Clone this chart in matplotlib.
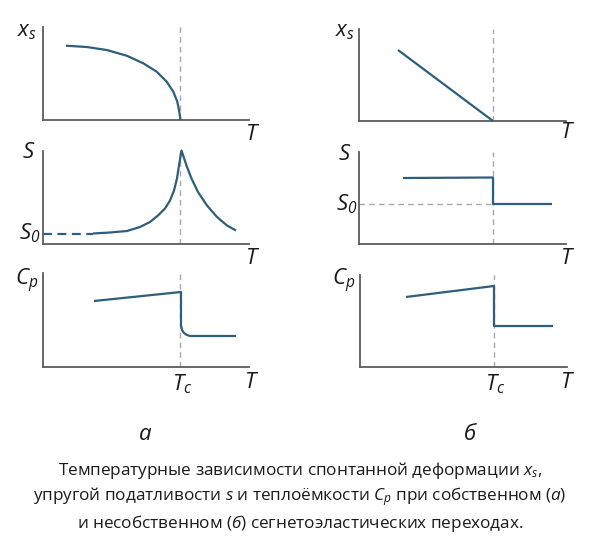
import numpy as np
import matplotlib
matplotlib.use("Agg")
import matplotlib.pyplot as plt

plt.rcParams['font.family'] = ['Open Sans', 'DejaVu Sans']
plt.rcParams['mathtext.fontset'] = 'custom'
plt.rcParams['mathtext.rm'] = 'Open Sans'
plt.rcParams['mathtext.it'] = 'Open Sans:italic'
plt.rcParams['mathtext.bf'] = 'Open Sans:bold'
plt.rcParams['mathtext.cal'] = 'Open Sans:italic'

TC_A = 137.5
TC_B = 134.0

xs_a_T = [23, 43.7, 63.7, 83.7, 100.3, 113.7, 123.7, 130.3, 134.3, 136.3, 137.5]
xs_a = [74.3, 73, 70, 64.3, 56.7, 48.3, 38.3, 28.3, 18.3, 8.3, 0]

s_a_T = [50, 67, 84, 97, 107, 115, 122, 127, 131, 134, 136, 138.5,
         143.5, 148.5, 155, 164, 174, 184, 193]
s_a = [10, 11, 12.5, 16.5, 21.5, 28, 35, 43, 53, 65, 78, 93,
       78, 65, 51.5, 38, 26.5, 18, 13]
s0_a = 10

cp_a_T = [51, 138, 138, 139, 141, 144, 147, 193]
cp_a = [66, 75, 42, 37, 34, 32, 31, 31]

xs_b_T = [39, 134]
xs_b = [71, 0]

s_b_T = [44, 134, 134, 193]
s_b = [66, 66.5, 40, 40]
s0_b = 40

cp_b_T = [46, 134, 134, 193]
cp_b = [70, 81, 41, 41]

caption = ("Температурные зависимости спонтанной деформации $x_s$,\n"
           "упругой податливости $s$ и теплоёмкости $C_p$ при собственном ($а$)\n"
           "и несобственном ($б$) сегнетоэластических переходах.")

W, H = 600, 550
LINE = '#2e5e7c'
AXC = '#5c5c5c'
DASH = '#a8a8a8'
TXT = '#1a1a1a'

fig = plt.figure(figsize=(6, 5.5), dpi=100)


def make_ax(x0, y_top, x1, y_bot, tmax, ymax):
    ax = fig.add_axes([x0 / W, 1 - y_bot / H, (x1 - x0) / W, (y_bot - y_top) / H])
    ax.set_xlim(0, tmax)
    ax.set_ylim(0, ymax)
    for sp in ['top', 'right']:
        ax.spines[sp].set_visible(False)
    for sp in ['left', 'bottom']:
        ax.spines[sp].set_color(AXC)
        ax.spines[sp].set_linewidth(1.3)
    ax.set_xticks([])
    ax.set_yticks([])
    ax.patch.set_alpha(0)
    return ax


def label(x, y, s, ha='center', size=16):
    fig.text(x / W, 1 - y / H, s, ha=ha, va='center', fontsize=size,
             color=TXT, style='italic')


def vdash(ax, tc):
    ax.axvline(tc, color=DASH, lw=1.0, ls=(0, (4, 3)), zorder=1)


def curve(ax, t, v, **kw):
    ax.plot(t, v, color=LINE, lw=1.6, solid_joinstyle='round',
            solid_capstyle='butt', clip_on=False, zorder=3, **kw)


# column a
ax = make_ax(43, 27, 249, 120, 206, 93)
vdash(ax, TC_A)
curve(ax, xs_a_T, xs_a)
label(37, 32, '$x_s$', ha='right')
label(253, 134, '$T$')

ax = make_ax(43, 151, 249, 243.5, 206, 92.5)
vdash(ax, TC_A)
ax.plot([0, s_a_T[0]], [s0_a, s0_a], color=LINE, lw=1.6, ls=(0, (4, 2.5)))
curve(ax, s_a_T, s_a)
label(36, 152, '$S$', ha='right')
label(40, 233, r'$S_{\mathcal{0}}$', ha='right')
label(253, 258, '$T$')

ax = make_ax(43, 273, 249, 367, 206, 94)
vdash(ax, TC_A)
curve(ax, cp_a_T, cp_a)
label(38, 281, '$C_p$', ha='right')
label(182, 384, '$T_c$')
label(252, 382, '$T$')

# column b
ax = make_ax(359, 29, 566, 121, 207, 92)
vdash(ax, TC_B)
curve(ax, xs_b_T, xs_b)
label(355, 32, '$x_s$', ha='right')
label(568, 133, '$T$')

ax = make_ax(359, 152, 566, 244, 207, 92)
vdash(ax, TC_B)
ax.plot([0, TC_B], [s0_b, s0_b], color=DASH, lw=1.0, ls=(0, (4, 3)), zorder=1)
curve(ax, s_b_T, s_b)
label(352, 154, '$S$', ha='right')
label(357, 204, r'$S_{\mathcal{0}}$', ha='right')
label(568, 258, '$T$')

ax = make_ax(360, 275, 567, 367, 207, 92)
vdash(ax, TC_B)
curve(ax, cp_b_T, cp_b)
label(355, 281, '$C_p$', ha='right')
label(495, 384, '$T_c$')
label(568, 383, '$T$')

label(145, 435, 'а', size=16)
label(470, 435, 'б', size=16)

fig.text(0.5, 1 - 497 / H, caption, ha='center', va='center', fontsize=12.3,
         color=TXT, linespacing=1.32)

fig.savefig('out.png', dpi=100)
